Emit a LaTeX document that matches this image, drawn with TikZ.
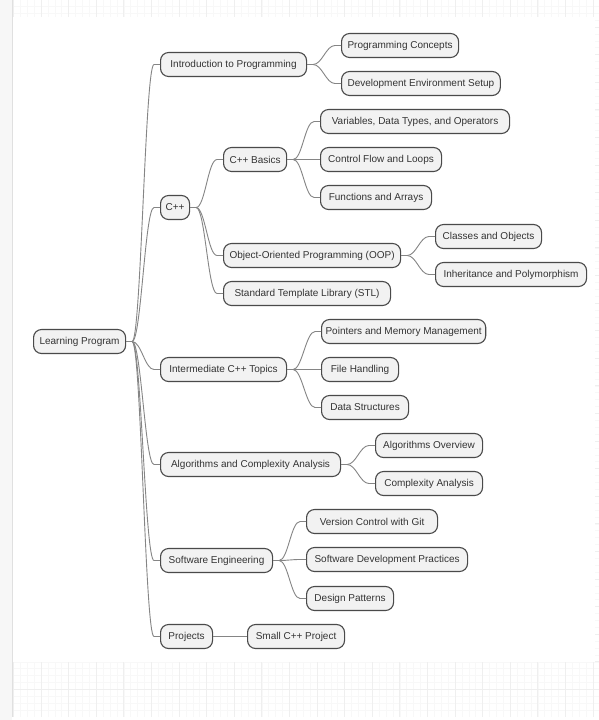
\documentclass[tikz,border=0pt]{standalone}
\usepackage{fontspec}
\setmainfont{Liberation Sans}
\usetikzlibrary{positioning, calc}

\definecolor{cBox}{HTML}{F2F2F2}     % node fill
\definecolor{cEdge}{HTML}{4A4A4A}    % node border
\definecolor{cLink}{HTML}{858585}    % branch lines
\definecolor{cText}{HTML}{333333}
\definecolor{cGrid}{HTML}{EFEFEF}

\tikzset{
  box/.style={draw=cEdge, fill=cBox, line width=1.1pt, rounded corners=8pt,
    minimum height=24pt, inner xsep=6pt, inner ysep=0pt, text=cText, anchor=west},
  branch/.style={draw=cLink, line width=0.9pt},
}

\begin{document}
\begin{tikzpicture}[x=1pt, y=-1pt, font=\fontsize{10}{12}\selectfont]
\useasboundingbox (0,0) rectangle (599,720);

% --- page background with faint grid ---
\fill[black!3] (0,0) rectangle (12,720);
\foreach \i in {0,...,84}
  \draw[cGrid!45, line width=0.4pt] ({13.3+6.9*\i},0) -- ({13.3+6.9*\i},717);
\foreach \k in {0,...,103}
  \draw[cGrid!45, line width=0.4pt] (12,{716.9-6.9*\k}) -- (599,{716.9-6.9*\k});
\foreach \i in {0,...,21}
  \draw[cGrid, line width=0.6pt] ({13.3+27.6*\i},0) -- ({13.3+27.6*\i},717);
\foreach \k in {0,...,25}
  \draw[cGrid, line width=0.6pt] (12,{716.9-27.6*\k}) -- (599,{716.9-27.6*\k});
\fill[white] (13,17) rectangle (595,662);
\fill[white] (12,717) rectangle (599,720);
\draw[black!12, line width=0.6pt] (12,0) -- (12,717);

\begin{scope}[shift={(0,1.5)}]
% --- root ---
\node[box, minimum width=92pt] (root) at (33,340) {Learning Program};

% --- first level ---
\node[box, minimum width=146pt] (intro) at (160,63)  {Introduction to Programming};
\node[box, inner xsep=4pt, minimum width=29pt] (cpp) at (160,206) {C++};
\node[box, minimum width=126pt] (inter) at (160,368) {Intermediate C++ Topics};
\node[box, minimum width=180pt] (algo)  at (160,463) {Algorithms and Complexity Analysis};
\node[box, minimum width=112pt] (soft)  at (160,559) {Software Engineering};
\node[box, minimum width=52pt]  (proj)  at (160,635) {Projects};

% --- second level ---
\node[box, minimum width=113pt] (pconc)  at (341,44)  {Programming Concepts};
\node[box, minimum width=156pt] (devenv) at (341,82)  {Development Environment Setup};
\node[box, minimum width=63pt]  (basics) at (223,158) {C++ Basics};
\node[box, minimum width=177pt] (oop)    at (223,254) {Object-Oriented Programming (OOP)};
\node[box, minimum width=167pt] (stl)    at (223,292) {Standard Template Library (STL)};
\node[box, inner xsep=4pt, minimum width=161pt] (ptr) at (321,330) {Pointers and Memory Management};
\node[box, minimum width=77pt]  (fileh)  at (321,368) {File Handling};
\node[box, minimum width=87pt]  (dstr)   at (321,406) {Data Structures};
\node[box, minimum width=107pt] (aover)  at (375,444) {Algorithms Overview};
\node[box, minimum width=107pt] (canal)  at (375,482) {Complexity Analysis};
\node[box, minimum width=131pt] (git)    at (306,520) {Version Control with Git};
\node[box, minimum width=161pt] (sdp)    at (306,558) {Software Development Practices};
\node[box, minimum width=87pt]  (dpat)   at (306,597) {Design Patterns};
\node[box, minimum width=97pt]  (small)  at (247,635) {Small C++ Project};

% --- third level ---
\node[box, minimum width=189pt] (vars) at (320,120) {Variables, Data Types, and Operators};
\node[box, minimum width=121pt] (ctrl) at (320,158) {Control Flow and Loops};
\node[box, minimum width=111pt] (func) at (320,196) {Functions and Arrays};
\node[box, minimum width=106pt] (cls)  at (435,235) {Classes and Objects};
\node[box, minimum width=151pt] (inh)  at (435,273) {Inheritance and Polymorphism};
\end{scope}

% --- branches ---
\foreach \p/\c in {root/intro, root/cpp, root/inter, root/algo, root/soft, root/proj,
                   intro/pconc, intro/devenv,
                   cpp/basics, cpp/oop, cpp/stl,
                   basics/vars, basics/ctrl, basics/func,
                   oop/cls, oop/inh,
                   inter/ptr, inter/fileh, inter/dstr,
                   algo/aover, algo/canal,
                   soft/git, soft/sdp, soft/dpat,
                   proj/small}
  \draw[branch] (\p.east) -- ++(6,0)
    to[out=0, in=180, distance=9pt] ([xshift=-6pt]\c.west) -- (\c.west);

\end{tikzpicture}
\end{document}
